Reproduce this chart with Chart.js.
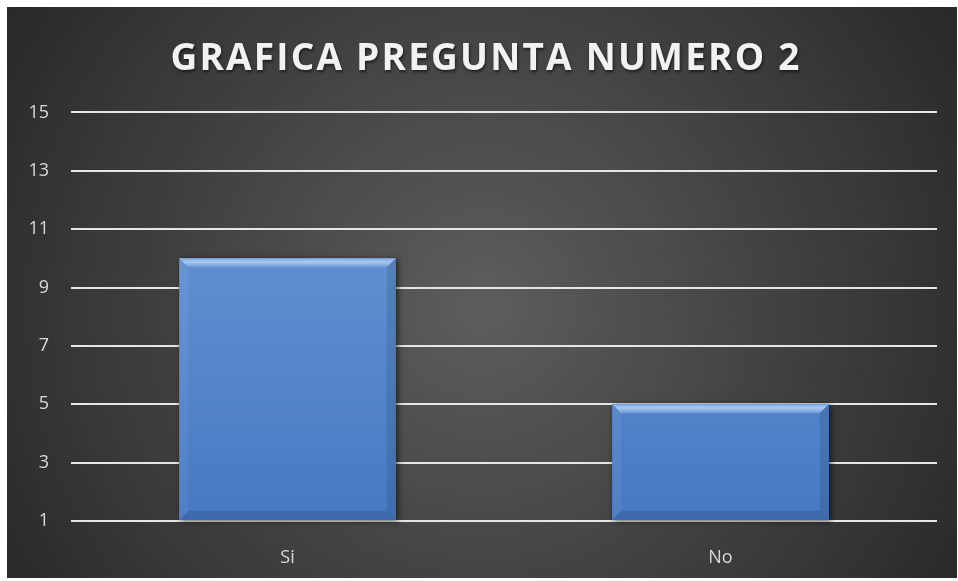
<!DOCTYPE html>
<html>
<head>
<meta charset="utf-8">
<script src="https://cdn.jsdelivr.net/npm/chart.js@4"></script>
<style>
  html, body { margin: 0; padding: 0; background: #ffffff; }
  #wrap { position: absolute; left: 7px; top: 7px; width: 950px; height: 571px; }
</style>
</head>
<body>
<div id="wrap"><canvas id="grafica"></canvas></div>
<script>
// datos de la grafica
var categorias = ['Si', 'No'];
var respuestas = [10, 5];
var marcasY = [1, 3, 5, 7, 9, 11, 13, 15];
var titulo = 'GRAFICA PREGUNTA NUMERO 2';

// fondo con degradado radial + estilo del titulo
var fondoPlugin = {
  id: 'fondo',
  beforeDraw: function(chart) {
    var ctx = chart.ctx, w = chart.width, h = chart.height;
    var g = ctx.createRadialGradient(w * 0.5, h * 0.52, 10, w * 0.5, h * 0.52, w * 0.62);
    g.addColorStop(0, '#5c5c5c');
    g.addColorStop(1, '#262626');
    ctx.save();
    ctx.fillStyle = g;
    ctx.fillRect(0, 0, w, h);
    ctx.restore();

    var tb = chart.titleBlock;
    if (tb && !tb._envuelto) {
      var dibujar = tb.draw;
      tb.draw = function() {
        var c = this.ctx;
        c.save();
        c.letterSpacing = '2.2px';
        c.translate(14, 0);
        c.shadowColor = 'rgba(0,0,0,0.55)';
        c.shadowBlur = 3;
        c.shadowOffsetX = 1;
        c.shadowOffsetY = 2;
        dibujar.apply(this, arguments);
        c.restore();
      };
      tb._envuelto = true;
    }
  }
};

// efecto bisel en las barras
var biselPlugin = {
  id: 'bisel',
  beforeDatasetsDraw: function(chart) {
    var ctx = chart.ctx;
    chart.getDatasetMeta(0).data.forEach(function(bar) {
      var l = bar.x - bar.width / 2, r = bar.x + bar.width / 2;
      ctx.save();
      ctx.shadowColor = 'rgba(0,0,0,0.6)';
      ctx.shadowBlur = 6;
      ctx.shadowOffsetX = 2;
      ctx.shadowOffsetY = 1;
      ctx.fillStyle = '#3f6fb0';
      ctx.fillRect(l, bar.y, r - l, bar.base - bar.y);
      ctx.restore();
    });
  },
  afterDatasetsDraw: function(chart) {
    var ctx = chart.ctx;
    var b = 9;
    chart.getDatasetMeta(0).data.forEach(function(bar) {
      var l = bar.x - bar.width / 2, r = bar.x + bar.width / 2;
      var t = bar.y, btm = bar.base;
      ctx.save();
      // arriba
      var gt = ctx.createLinearGradient(0, t, 0, t + b);
      gt.addColorStop(0, '#7fa9e3');
      gt.addColorStop(0.4, '#a9c8f2');
      gt.addColorStop(1, '#6e99d4');
      ctx.fillStyle = gt;
      ctx.beginPath();
      ctx.moveTo(l, t); ctx.lineTo(r, t); ctx.lineTo(r - b, t + b); ctx.lineTo(l + b, t + b);
      ctx.closePath(); ctx.fill();
      // izquierda
      ctx.fillStyle = 'rgba(255,255,255,0.05)';
      ctx.beginPath();
      ctx.moveTo(l, t); ctx.lineTo(l + b, t + b); ctx.lineTo(l + b, btm - b); ctx.lineTo(l, btm);
      ctx.closePath(); ctx.fill();
      // derecha
      ctx.fillStyle = 'rgba(0,0,0,0.10)';
      ctx.beginPath();
      ctx.moveTo(r, t); ctx.lineTo(r - b, t + b); ctx.lineTo(r - b, btm - b); ctx.lineTo(r, btm);
      ctx.closePath(); ctx.fill();
      // abajo
      ctx.fillStyle = 'rgba(0,0,0,0.12)';
      ctx.beginPath();
      ctx.moveTo(l, btm); ctx.lineTo(l + b, btm - b); ctx.lineTo(r - b, btm - b); ctx.lineTo(r, btm);
      ctx.closePath(); ctx.fill();
      ctx.restore();
    });
  }
};

var ctx = document.getElementById('grafica').getContext('2d');

var config = {
  type: 'bar',
  data: {
    labels: categorias,
    datasets: [{
      label: 'Respuestas',
      data: respuestas,
      base: 1,
      backgroundColor: function(c) {
        var area = c.chart.chartArea;
        if (!area) return '#5a8ad0';
        var g = c.chart.ctx.createLinearGradient(0, area.top, 0, area.bottom);
        g.addColorStop(0, '#6f9cd8');
        g.addColorStop(1, '#4679c2');
        return g;
      },
      borderWidth: 0,
      barPercentage: 0.5,
      categoryPercentage: 1.0
    }]
  },
  options: {
    responsive: true,
    maintainAspectRatio: false,
    animation: false,
    layout: { padding: { left: 0, right: 20, top: 0, bottom: 0 } },
    plugins: {
      legend: { display: false },
      tooltip: { enabled: false },
      title: {
        display: true,
        text: titulo,
        color: '#f2f2f2',
        font: { family: 'Open Sans', size: 37, weight: 'bold', lineHeight: 1.2 },
        padding: { top: 30, bottom: 31 }
      }
    },
    scales: {
      x: {
        grid: { display: false },
        border: { display: false },
        ticks: {
          color: '#d9d9d9',
          font: { family: 'Open Sans', size: 18 },
          padding: 18
        },
        afterFit: function(s) { s.height = 57; }
      },
      y: {
        min: 1,
        max: 15,
        afterBuildTicks: function(s) {
          s.ticks = marcasY.map(function(v) { return { value: v }; });
        },
        grid: { color: '#e6e6e6', lineWidth: 2, drawTicks: false },
        border: { display: false },
        ticks: {
          color: '#d9d9d9',
          font: { family: 'Open Sans', size: 18 },
          padding: 22
        },
        afterFit: function(s) { s.width = 64; }
      }
    }
  },
  plugins: [fondoPlugin, biselPlugin]
};

var grafica = new Chart(ctx, config);
</script>
</body>
</html>
